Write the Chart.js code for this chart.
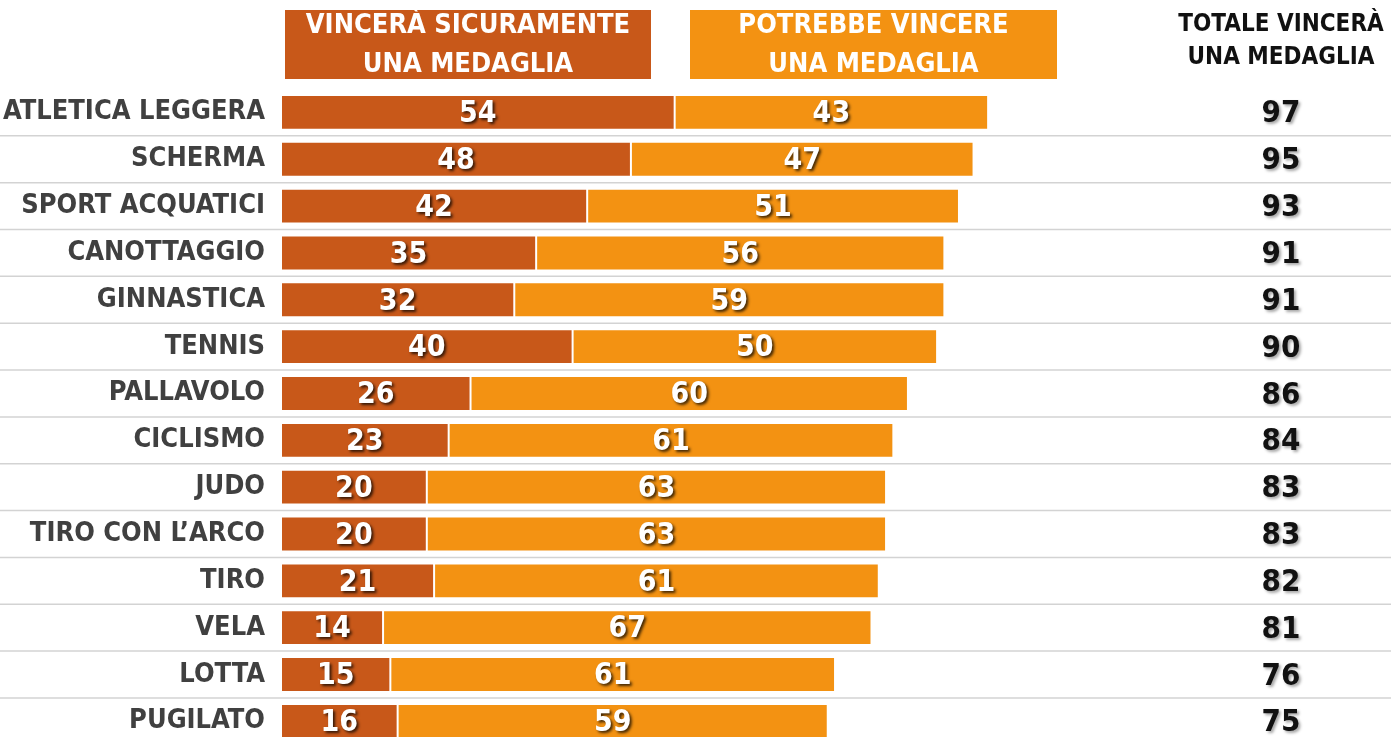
<!DOCTYPE html>
<html>
<head>
<meta charset="utf-8">
<script src="https://cdn.jsdelivr.net/npm/chart.js@4/dist/chart.umd.min.js"></script>
<style>
html,body{margin:0;padding:0;background:#fff;overflow:hidden}
canvas{position:absolute;left:0;top:0}
</style>
</head>
<body>
<canvas id="grafico" width="1391" height="769"></canvas>
<script>
const categorie=["ATLETICA LEGGERA","SCHERMA","SPORT ACQUATICI","CANOTTAGGIO","GINNASTICA","TENNIS","PALLAVOLO","CICLISMO","JUDO","TIRO CON L\u2019ARCO","TIRO","VELA","LOTTA","PUGILATO"]
const sicuramente=[54,48,42,35,32,40,26,23,20,20,21,14,15,16]
const potrebbe=[43,47,51,56,59,50,60,61,63,63,61,67,61,59]
const totale=[97,95,93,91,91,90,86,84,83,83,82,81,76,75]

const serie1="VINCER\u00c0 SICURAMENTE|UNA MEDAGLIA"
const serie2="POTREBBE VINCERE|UNA MEDAGLIA"
const titoloTot="TOTALE VINCER\u00c0|UNA MEDAGLIA"

const FONT="'DejaVu Sans Condensed','DejaVu Sans',sans-serif"
const SCURO="#C85819"
const CHIARO="#F39212"

// etichette, intestazioni e totali
const extra={
id:"extra",
afterDatasetsDraw(chart){
const ctx=chart.ctx
const y=chart.scales.y
const W=chart.width
ctx.save()
// linee tra le righe
ctx.strokeStyle="#D3D3D3"
ctx.lineWidth=1.5
for(let i=0;i<categorie.length-1;i++){
const yy=(y.getPixelForValue(i)+y.getPixelForValue(i+1))/2
ctx.beginPath();ctx.moveTo(0,yy);ctx.lineTo(W,yy);ctx.stroke()
}
// valori dentro le barre
ctx.textAlign="center"
ctx.textBaseline="middle"
ctx.font="bold 30px "+FONT
chart.data.datasets.forEach((ds,di)=>{
chart.getDatasetMeta(di).data.forEach((bar,i)=>{
const cx=(bar.x+bar.base)/2
ctx.shadowColor="rgba(0,0,0,0.75)"
ctx.shadowOffsetX=2;ctx.shadowOffsetY=2;ctx.shadowBlur=3
ctx.fillStyle="#fff"
ctx.fillText(ds.data[i],cx,bar.y+2)
})
})
// totali
ctx.font="bold 31px "+FONT
ctx.fillStyle="#111"
ctx.shadowColor="rgba(0,0,0,0.35)"
totale.forEach((t,i)=>{
ctx.fillText(t,1281,y.getPixelForValue(i)+2)
})
ctx.shadowColor="transparent"
ctx.shadowOffsetX=0;ctx.shadowOffsetY=0;ctx.shadowBlur=0
// intestazioni
const box=(x,w,col,txt)=>{
ctx.fillStyle=col
ctx.fillRect(x,10,w,69)
ctx.fillStyle="#fff"
ctx.font="bold 27px "+FONT
const r=txt.split("|")
ctx.fillText(r[0],x+w/2,26)
ctx.fillText(r[1],x+w/2,65)
}
box(285,366,SCURO,serie1)
box(690,367,CHIARO,serie2)
ctx.fillStyle="#111"
ctx.font="bold 24px "+FONT
const r=titoloTot.split("|")
ctx.fillText(r[0],1281,25)
ctx.fillText(r[1],1281,58)
ctx.restore()
}
}

new Chart(document.getElementById("grafico"),{
type:"bar",
data:{
labels:categorie,
datasets:[
{label:serie1.replace("|"," "),data:sicuramente,backgroundColor:SCURO,borderColor:"rgba(255,255,255,0.9)",borderWidth:1,borderSkipped:false,barPercentage:0.8,categoryPercentage:0.93},
{label:serie2.replace("|"," "),data:potrebbe,backgroundColor:CHIARO,borderColor:"rgba(255,255,255,0.9)",borderWidth:1,borderSkipped:false,barPercentage:0.8,categoryPercentage:0.93}
]
},
options:{
indexAxis:"y",
responsive:false,
animation:false,
layout:{padding:{top:89,bottom:7,left:0,right:381}},
plugins:{legend:{display:false},tooltip:{enabled:false}},
scales:{
x:{stacked:true,min:0,max:100,display:false},
y:{
stacked:true,
grid:{display:false},
border:{display:false},
afterFit(s){s.width=281},
ticks:{color:"#404040",padding:8,font:{family:FONT,size:27,weight:"bold"}}
}
}
},
plugins:[extra]
})
</script>
</body>
</html>
